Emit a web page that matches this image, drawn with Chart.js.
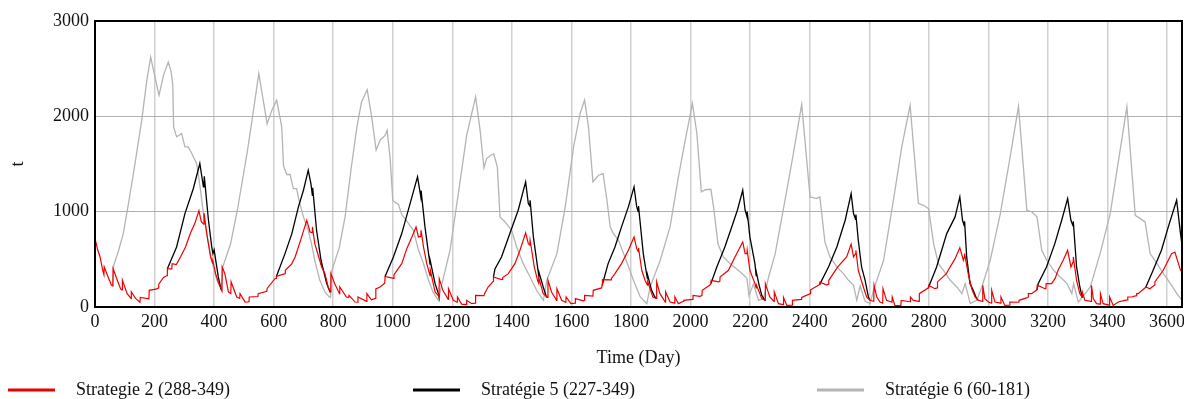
<!DOCTYPE html>
<html>
<head>
<meta charset="utf-8">
<script src="https://cdn.jsdelivr.net/npm/chart.js@4.4.0/dist/chart.umd.min.js"></script>
<style>
  html, body { margin: 0; padding: 0; background: #fff; }
  #wrap { width: 1184px; height: 399px; position: relative; }
</style>
</head>
<body>
<div id="wrap"><canvas id="chart"></canvas></div>
<script>
/* ---------- Labels ---------- */
const seriesNames = ["Strategie 2 (288-349)", "Stratégie 5 (227-349)", "Stratégie 6 (60-181)"];
const xTitle = "Time (Day)";
const yTitle = "t";

/* ---------- Series: [day, value] ---------- */
const strat2 = [
  [0,720],[9,600],[17,525],[26,385],[30,340],[31,420],[44,315],[55,230],[60,220],[61,400],[75,280],[86,190],[91,180],[92,280],
  [108,140],[121,90],[122,160],[136,90],[151,50],[152,100],[181,85],[182,175],[208,190],[213,200],[214,240],[230,310],[242,330],
  [243,400],[258,400],[259,455],[273,445],[287,525],[304,630],[320,770],[335,875],[349,1010],[357,895],[365,870],[366,985],
  [377,735],[388,525],[395,460],[396,480],[405,350],[416,245],[426,170],[427,420],[436,350],[448,158],[456,140],[457,263],
  [476,105],[486,90],[487,140],[504,52],[517,55],[518,105],[547,110],[548,140],[577,165],[578,195],[604,297],[608,300],[609,320],
  [638,350],[639,385],[660,450],[672,525],[694,735],[711,910],[716,857],[722,787],[729,780],[730,840],[738,665],[750,540],
  [761,420],[772,350],[783,210],[791,158],[792,350],[805,245],[821,140],[822,210],[844,105],[852,100],[853,122],[873,52],
  [882,50],[883,105],[912,60],[913,140],[928,75],[942,90],[943,190],[957,210],[973,250],[974,320],[1003,300],[1004,340],
  [1030,455],[1047,612],[1064,735],[1078,840],[1086,735],[1094,740],[1095,805],[1103,630],[1114,455],[1125,330],[1126,385],
  [1142,158],[1155,110],[1156,297],[1168,175],[1186,80],[1187,192],[1203,70],[1216,50],[1217,105],[1231,30],[1247,25],[1248,70],
  [1265,35],[1277,40],[1278,122],[1306,120],[1308,140],[1320,210],[1337,270],[1338,315],[1365,287],[1368,290],[1369,310],
  [1388,350],[1410,455],[1427,595],[1446,777],[1455,665],[1460,650],[1461,700],[1475,420],[1486,280],[1490,250],[1491,300],
  [1505,140],[1520,100],[1521,280],[1533,158],[1550,70],[1551,192],[1567,70],[1581,50],[1582,105],[1598,35],[1612,40],[1613,88],
  [1640,65],[1643,70],[1644,122],[1672,115],[1673,175],[1701,200],[1703,228],[1704,287],[1733,285],[1734,300],[1746,350],
  [1768,455],[1791,595],[1810,735],[1819,612],[1824,580],[1825,620],[1836,385],[1847,280],[1855,230],[1856,270],[1873,105],
  [1885,90],[1886,263],[1897,140],[1915,52],[1916,158],[1931,52],[1946,40],[1947,105],[1959,35],[1976,60],[1977,70],[2007,80],
  [2008,122],[2031,112],[2038,120],[2039,175],[2065,230],[2068,245],[2069,280],[2093,263],[2098,270],[2099,315],[2127,385],
  [2149,525],[2175,682],[2183,560],[2189,560],[2190,595],[2199,385],[2216,245],[2220,200],[2221,230],[2239,88],[2250,70],
  [2251,245],[2266,105],[2280,60],[2281,158],[2295,35],[2311,25],[2312,100],[2323,17],[2341,20],[2342,70],[2372,80],[2373,100],
  [2402,140],[2403,180],[2429,228],[2433,235],[2434,260],[2457,230],[2463,240],[2464,280],[2494,420],[2524,525],[2539,660],
  [2547,525],[2554,560],[2555,595],[2563,385],[2580,210],[2591,105],[2602,70],[2615,60],[2616,228],[2625,105],[2636,52],
  [2645,40],[2646,192],[2658,70],[2676,50],[2677,105],[2686,17],[2706,15],[2707,70],[2737,55],[2738,105],[2748,70],[2767,60],
  [2768,140],[2798,200],[2799,228],[2820,192],[2828,200],[2829,263],[2859,350],[2865,385],[2888,507],[2904,622],[2916,490],
  [2919,520],[2920,560],[2932,350],[2944,192],[2955,105],[2966,70],[2980,60],[2981,228],[2988,88],[3000,52],[3010,40],[3011,175],
  [3022,52],[3041,40],[3042,105],[3055,17],[3071,20],[3072,52],[3102,50],[3103,70],[3128,95],[3133,105],[3134,140],[3145,140],
  [3163,180],[3164,228],[3190,192],[3193,195],[3194,245],[3212,245],[3224,300],[3234,385],[3251,490],[3266,595],[3277,420],
  [3284,470],[3285,525],[3296,280],[3307,140],[3315,100],[3316,150],[3324,70],[3345,60],[3346,228],[3352,88],[3363,35],
  [3375,30],[3376,140],[3385,35],[3406,20],[3407,105],[3419,17],[3436,52],[3458,70],[3467,75],[3468,105],[3481,105],[3497,120],
  [3498,140],[3503,140],[3525,200],[3528,205],[3529,210],[3542,192],[3558,230],[3559,263],[3587,385],[3615,560],[3626,577],
  [3645,385],[3650,370]
];

// where strategy 5 runs the same as strategy 2 the red line covers it, so only the separate parts are listed
const strat5 = [
  [243,400],[274,630],[302,980],[330,1240],[352,1505],[364,1260],[366,1300],[367,1370],[381,910],[392,630],[396,560],[400,600],
  [414,315],[423,190],[426,170],[430,null],
  [609,320],[638,560],[661,770],[683,1050],[700,1225],[716,1435],[725,1295],[730,1172],[731,1250],[744,805],[759,490],[760,440],
  [761,470],[778,245],[789,158],[791,158],[800,null],
  [974,320],[1002,525],[1030,770],[1058,1085],[1083,1365],[1094,1155],[1095,1220],[1108,840],[1120,560],[1125,450],[1126,480],
  [1142,245],[1153,140],[1155,110],[1160,null],
  [1338,315],[1343,400],[1365,525],[1393,770],[1421,1015],[1446,1312],[1455,1085],[1460,1060],[1461,1120],[1472,735],[1486,420],
  [1490,330],[1491,360],[1505,210],[1516,105],[1520,100],[1525,null],
  [1703,228],[1723,455],[1746,630],[1768,840],[1791,1050],[1810,1260],[1819,1050],[1824,1000],[1825,1060],[1841,560],[1852,350],
  [1855,300],[1856,330],[1869,175],[1880,105],[1885,90],[1890,null],
  [2068,245],[2088,420],[2115,630],[2138,840],[2157,1015],[2175,1225],[2183,1015],[2189,950],[2190,1000],[2199,735],[2216,455],
  [2220,330],[2221,360],[2230,230],[2239,122],[2250,70],[2255,null],
  [2433,235],[2463,420],[2491,630],[2519,910],[2539,1190],[2547,980],[2554,920],[2555,970],[2563,700],[2574,420],[2586,280],
  [2597,105],[2602,70],[2610,null],
  [2798,200],[2826,420],[2860,770],[2888,945],[2904,1155],[2913,910],[2919,850],[2920,900],[2927,525],[2938,245],[2949,175],
  [2960,90],[2966,70],[2970,null],
  [3163,180],[3167,245],[3195,420],[3223,665],[3246,910],[3266,1137],[3277,910],[3284,850],[3285,900],[3296,420],[3307,210],
  [3315,100],[3320,null],
  [3528,205],[3553,385],[3581,595],[3604,840],[3632,1120],[3645,770],[3650,650]
];

const strat6 = [
  [60,220],[61,420],[78,580],[95,770],[112,1080],[129,1400],[143,1680],[157,1960],[174,2380],[187,2620],[201,2420],[215,2220],
  [230,2430],[246,2570],[255,2480],[261,2340],[264,1890],[274,1785],[291,1820],[302,1680],[313,1680],[325,1610],[341,1505],
  [353,1260],[364,980],[375,770],[392,490],[409,280],[426,175],[429,420],[455,660],[478,1015],[512,1640],[533,2080],[550,2450],
  [578,1920],[594,2065],[610,2170],[627,1890],[633,1480],[644,1390],[655,1390],[666,1242],[677,1242],[685,1120],[700,945],
  [716,805],[727,665],[738,490],[755,280],[772,158],[786,105],[791,100],[795,380],[820,620],[840,950],[860,1450],[880,1900],
  [895,2150],[914,2280],[929,1995],[944,1645],[957,1750],[974,1800],[981,1855],[991,1560],[1000,1120],[1007,1100],[1019,1075],
  [1030,970],[1047,900],[1069,805],[1086,600],[1103,455],[1120,280],[1136,150],[1153,70],[1164,230],[1192,595],[1220,1190],
  [1248,1800],[1278,2205],[1293,1855],[1306,1460],[1315,1557],[1329,1592],[1339,1605],[1351,1470],[1360,945],[1377,892],
  [1399,805],[1416,630],[1438,455],[1461,315],[1483,175],[1506,70],[1517,280],[1551,560],[1579,1050],[1607,1680],[1629,2030],
  [1644,2170],[1657,1890],[1672,1312],[1691,1382],[1706,1400],[1719,1120],[1730,840],[1741,770],[1758,700],[1775,560],
  [1792,420],[1808,280],[1831,105],[1853,35],[1864,210],[1898,490],[1931,840],[1959,1365],[1982,1750],[2006,2135],[2021,1820],
  [2036,1207],[2049,1230],[2068,1235],[2077,1050],[2092,660],[2110,525],[2132,455],[2166,370],[2189,300],[2196,120],[2211,240],
  [2228,70],[2245,90],[2262,315],[2284,560],[2317,1120],[2345,1610],[2373,2125],[2401,1155],[2423,1137],[2434,1155],[2451,680],
  [2468,525],[2491,420],[2513,350],[2530,280],[2547,230],[2558,70],[2569,220],[2586,60],[2603,35],[2614,175],[2648,490],
  [2681,1120],[2709,1680],[2737,2115],[2765,1085],[2782,1067],[2799,1032],[2816,665],[2832,455],[2849,385],[2872,280],
  [2894,210],[2911,140],[2922,245],[2939,35],[2961,70],[2978,210],[3006,490],[3040,980],[3073,1575],[3101,2105],[3129,1015],
  [3146,997],[3163,945],[3179,595],[3196,490],[3219,385],[3241,315],[3264,245],[3280,140],[3286,245],[3302,52],[3325,140],
  [3342,210],[3375,560],[3409,980],[3437,1540],[3465,2100],[3493,962],[3510,927],[3526,892],[3543,560],[3566,455],[3588,350],
  [3611,245],[3633,140],[3650,70]
];

const seriesColors = ["#ee0000", "#000000", "#b4b4b4"];

/* ---------- Plot frame ---------- */
const framePlugin = {
  id: "frame",
  afterDraw(chart) {
    const a = chart.chartArea, c = chart.ctx;
    c.save();
    c.strokeStyle = "#000";
    c.lineWidth = 2;
    c.strokeRect(a.left, a.top, a.right - a.left, a.bottom - a.top);
    c.restore();
  }
};

/* ---------- Legend along the bottom ---------- */
const legendSpots = [8, 413, 817];
const legendPlugin = {
  id: "bottomLegend",
  afterDraw(chart) {
    const c = chart.ctx;
    const y = 390;
    c.save();
    c.font = "18px 'Liberation Serif', serif";
    c.textBaseline = "middle";
    c.fillStyle = "#111";
    chart.data.datasets.forEach((ds, i) => {
      const x = legendSpots[i];
      c.strokeStyle = ds.borderColor;
      c.lineWidth = 3;
      c.beginPath();
      c.moveTo(x, y);
      c.lineTo(x + 47, y);
      c.stroke();
      c.fillText(ds.label, x + 68, y);
    });
    c.restore();
  }
};

const serif = "'Liberation Serif', 'Times New Roman', serif";
const plainNumber = (v) => String(v);

new Chart(document.getElementById("chart"), {
  type: "line",
  data: {
    datasets: [
      { label: seriesNames[0], data: strat2, borderColor: seriesColors[0], borderWidth: 1.2 },
      { label: seriesNames[1], data: strat5, borderColor: seriesColors[1], borderWidth: 1.3 },
      { label: seriesNames[2], data: strat6, borderColor: seriesColors[2], borderWidth: 1.3 }
    ]
  },
  options: {
    responsive: true,
    maintainAspectRatio: false,
    animation: false,
    spanGaps: false,
    elements: { point: { radius: 0 }, line: { tension: 0 } },
    layout: { padding: { top: 21, right: 2, bottom: 28, left: 0 } },
    plugins: { legend: { display: false }, tooltip: { enabled: false } },
    scales: {
      x: {
        type: "linear",
        min: 0,
        max: 3650,
        ticks: {
          stepSize: 200, includeBounds: false, autoSkip: false, maxRotation: 0,
          padding: 4, color: "#111", font: { family: serif, size: 18 }, callback: plainNumber
        },
        grid: { color: "#d0d0d0", lineWidth: 1.5, drawTicks: false },
        border: { display: false },
        title: {
          display: true, text: xTitle, color: "#111",
          font: { family: serif, size: 18 }, padding: { top: 0, bottom: 2 }
        },
        afterFit(scale) {
          scale.height = 64;
          scale.paddingLeft = 0;
          scale.paddingRight = 0;
        }
      },
      y: {
        min: 0,
        max: 3000,
        ticks: {
          stepSize: 1000, padding: 6, color: "#111",
          font: { family: serif, size: 18 }, callback: plainNumber
        },
        grid: { color: "#b0b0b0", lineWidth: 1, drawTicks: false },
        border: { display: false },
        title: {
          display: true, text: yTitle, color: "#111",
          font: { family: serif, size: 18 }, padding: { top: 7, bottom: 0 }
        },
        afterFit(scale) { scale.width = 95; }
      }
    }
  },
  plugins: [framePlugin, legendPlugin]
});
</script>
</body>
</html>
